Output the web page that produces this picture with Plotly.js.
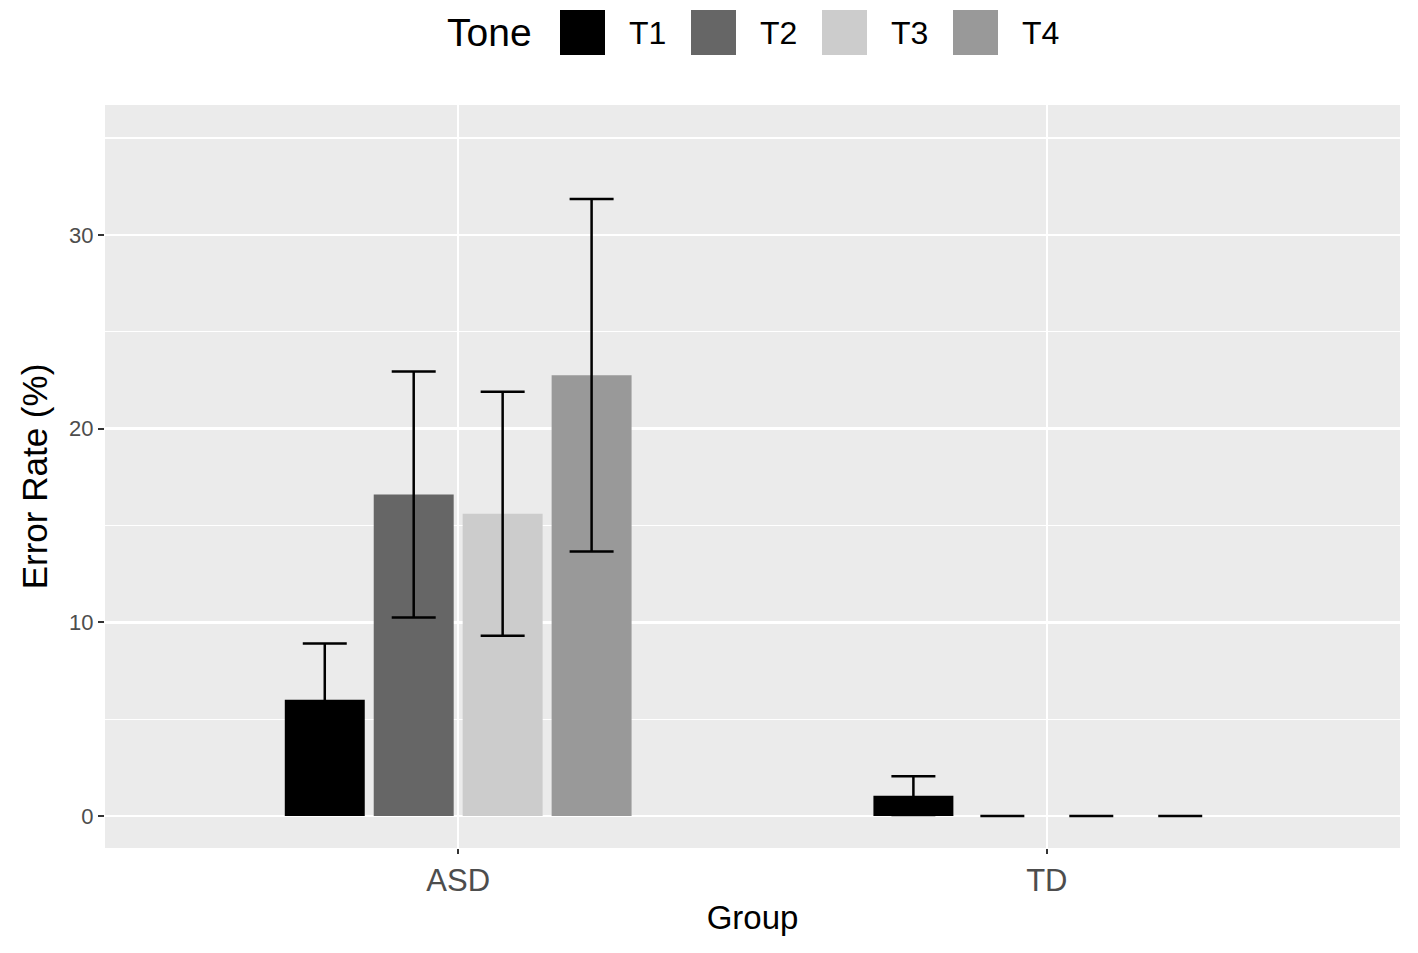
<!DOCTYPE html>
<html>
<head>
<meta charset="utf-8">
<script src="https://cdn.plot.ly/plotly-3.0.1.min.js"></script>
<style>html,body{margin:0;padding:0;background:#fff;}#chart{width:1418px;height:953px;}</style>
</head>
<body>
<div id="chart"></div>
<script>
// ---- data ----
const groups = ["ASD", "TD"];
const tones = ["T1", "T2", "T3", "T4"];
const toneColors = ["#000000", "#666666", "#cccccc", "#999999"];
const meanT1 = [6.0, 1.05];
const meanT2 = [16.6, 0];
const meanT3 = [15.6, 0];
const meanT4 = [22.75, 0];
const errT1 = [2.9, 1.0];
const errT2 = [6.35, 0];
const errT3 = [6.3, 0];
const errT4 = [9.1, 0];
const yTicks = [0, 10, 20, 30];

const means = [meanT1, meanT2, meanT3, meanT4];
const errs = [errT1, errT2, errT3, errT4];

const FONT = "Liberation Sans, Arial, sans-serif";

const traces = tones.map((t, i) => ({
  type: "bar",
  name: t,
  x: groups,
  y: means[i],
  marker: {color: toneColors[i], line: {width: 0}},
  error_y: {type: "data", array: errs[i], visible: true, color: "#000000", thickness: 2.5, width: 22},
  showlegend: false,
  hoverinfo: "x+y+name"
}));

// plot area in pixels
const L = 105, R = 18, T = 105, B = 105, W = 1418, H = 953;
const pw = W - L - R, ph = H - T - B;
const px = v => (v - L) / pw;
const py = v => (H - B - v) / ph;

const shapes = [];
const annotations = [];
annotations.push({
  xref: "paper", yref: "paper", x: px(445), y: py(33), xanchor: "left", yanchor: "middle",
  text: "Tone", showarrow: false, font: {family: FONT, size: 39, color: "#000"}
});
tones.forEach((t, i) => {
  const x0 = 560 + i * 131;
  shapes.push({
    type: "rect", xref: "paper", yref: "paper",
    x0: px(x0), x1: px(x0 + 45), y0: py(55), y1: py(10),
    fillcolor: toneColors[i], line: {width: 0}
  });
  annotations.push({
    xref: "paper", yref: "paper", x: px(x0 + 67), y: py(33), xanchor: "left", yanchor: "middle",
    text: t, showarrow: false, font: {family: FONT, size: 32, color: "#000"}
  });
});

const layout = {
  width: W, height: H,
  margin: {l: L, r: R, t: T, b: B, pad: 0},
  paper_bgcolor: "#ffffff",
  plot_bgcolor: "#ebebeb",
  barmode: "group",
  bargap: 0.3956,
  bargroupgap: 0.101,
  showlegend: false,
  font: {family: FONT},
  xaxis: {
    type: "category",
    range: [-0.6, 1.6],
    showgrid: true, gridcolor: "#ffffff", gridwidth: 2.5,
    zeroline: false, showline: false,
    ticks: "outside", ticklen: 5, tickwidth: 2, tickcolor: "#333333",
    tickfont: {family: FONT, size: 31, color: "#4d4d4d"},
    title: {text: "Group", font: {family: FONT, size: 33, color: "#000"}, standoff: 8}
  },
  yaxis: {
    range: [-1.65, 36.7],
    tickvals: yTicks,
    ticktext: yTicks.map(String),
    showgrid: true, gridcolor: "#ffffff", gridwidth: 2.5,
    minor: {dtick: 5, tick0: 0, showgrid: true, gridcolor: "#ffffff", gridwidth: 1.2, ticks: ""},
    zeroline: false, showline: false,
    ticks: "outside", ticklen: 6, tickwidth: 2, tickcolor: "#333333",
    tickfont: {family: FONT, size: 22, color: "#4d4d4d"},
    title: {text: "Error Rate (%)", font: {family: FONT, size: 35, color: "#000"}, standoff: 10}
  },
  shapes: shapes,
  annotations: annotations
};

Plotly.newPlot("chart", traces, layout, {displayModeBar: false, staticPlot: true});
</script>
</body>
</html>
